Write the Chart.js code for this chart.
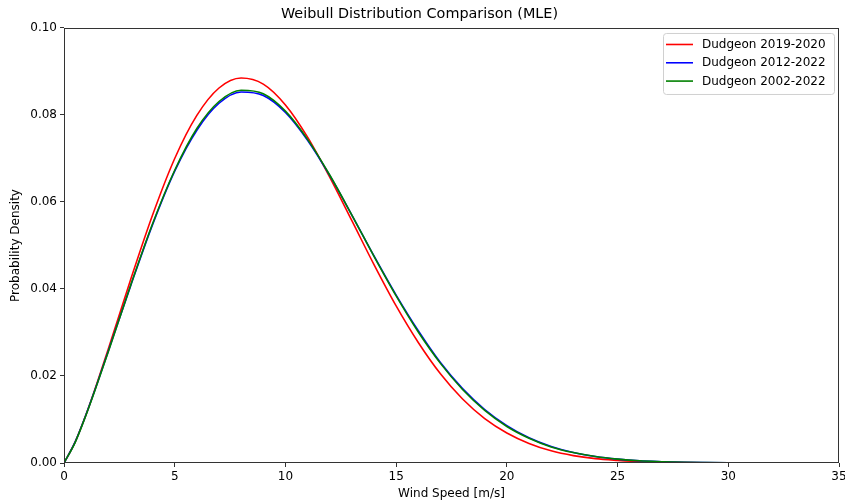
<!DOCTYPE html>
<html>
<head>
<meta charset="utf-8">
<script src="https://cdn.jsdelivr.net/npm/chart.js@4.4.1/dist/chart.umd.min.js"></script>
<style>
  html, body { margin: 0; padding: 0; background: #fff; }
  canvas { display: block; }
</style>
</head>
<body>
<canvas id="weibull" width="845" height="502"></canvas>
<script>
  const windSpeed = [0, 0.5, 1, 1.5, 2, 3, 4, 5, 6, 7, 8, 9, 10, 11, 12, 13, 14, 15, 16, 17,
    18, 19, 20, 21, 22, 23, 24, 25, 26, 27, 28, 29, 30, 31, 32, 33, 34, 35];

  const dudgeon1920 = [0, 0.0048, 0.0112, 0.0185, 0.0262, 0.0420, 0.0570, 0.0700, 0.0799, 0.0862, 0.0885, 0.0871,
    0.0823, 0.0749, 0.0657, 0.0557, 0.0456, 0.0361, 0.0277, 0.0205, 0.0147, 0.0102,
    0.0069, 0.0045, 0.0028, 0.0017, 0.0010, 0.0006, 0.0003, 0.0002, 0.0001, 0.00005,
    0.00002, 0.00001, 0, 0, 0, 0];

  const dudgeon1222 = [0, 0.0048, 0.0112, 0.0183, 0.0257, 0.0406, 0.0548, 0.0671, 0.0765, 0.0827, 0.0853, 0.0845,
    0.0806, 0.0742, 0.0661, 0.0570, 0.0476, 0.0386, 0.0304, 0.0231, 0.0171, 0.0123,
    0.0086, 0.0058, 0.0038, 0.0024, 0.0015, 0.0009, 0.0005, 0.0003, 0.00016, 0.00008,
    0.00004, 0.00002, 0.00001, 0, 0, 0];

  const dudgeon0222 = [0, 0.0047, 0.0111, 0.0182, 0.0256, 0.0407, 0.0550, 0.0673, 0.0769, 0.0831, 0.0857, 0.0849,
    0.0809, 0.0744, 0.0662, 0.0570, 0.0475, 0.0384, 0.0301, 0.0229, 0.0169, 0.0121,
    0.0084, 0.0057, 0.0037, 0.0024, 0.0015, 0.0009, 0.0005, 0.0003, 0.00015, 0.00008,
    0.00004, 0.00002, 0.00001, 0, 0, 0];

  const seriesLabels = ['Dudgeon 2019-2020', 'Dudgeon 2012-2022', 'Dudgeon 2002-2022'];
  const seriesColors = ['#ff0000', '#0000ff', '#008000'];
  const xTicks = [0, 5, 10, 15, 20, 25, 30, 35];
  const yTicks = [0, 0.02, 0.04, 0.06, 0.08, 0.10];

  const FONT = 'DejaVu Sans';

  function points(values) {
    return windSpeed.map((x, i) => ({ x, y: values[i] }));
  }

  // matplotlib-style box round the plot
  const frame = {
    id: 'frame',
    afterDatasetsDraw(chart) {
      const { ctx, chartArea: a } = chart;
      ctx.save();
      ctx.strokeStyle = '#333';
      ctx.lineWidth = 1;
      ctx.strokeRect(Math.round(a.left) + 0.5, Math.round(a.top) + 0.5,
        Math.round(a.right - a.left) - 1, Math.round(a.bottom - a.top) - 1);
      ctx.restore();
    },
  };

  // legend in the upper right corner, inside the axes
  const boxLegend = {
    id: 'boxLegend',
    afterDraw(chart) {
      const { ctx, chartArea: a } = chart;
      const w = 171, h = 61;
      const x = a.right - 5 - w, y = a.top + 5;
      ctx.save();
      ctx.beginPath();
      ctx.roundRect(x + 0.5, y + 0.5, w, h, 3);
      ctx.fillStyle = 'rgba(255,255,255,0.8)';
      ctx.fill();
      ctx.strokeStyle = '#d0d0d0';
      ctx.lineWidth = 1;
      ctx.stroke();
      ctx.font = `12px "${FONT}"`;
      ctx.textBaseline = 'middle';
      ctx.fillStyle = '#000';
      chart.data.datasets.forEach((ds, i) => {
        const ly = y + 11.5 + i * 18.3;
        ctx.beginPath();
        ctx.moveTo(x + 3, ly);
        ctx.lineTo(x + 30, ly);
        ctx.strokeStyle = ds.borderColor;
        ctx.lineWidth = 1.6;
        ctx.stroke();
        ctx.fillText(ds.label, x + 39, ly + 0.5);
      });
      ctx.restore();
    },
  };

  new Chart(document.getElementById('weibull'), {
    type: 'line',
    data: {
      datasets: [dudgeon1920, dudgeon1222, dudgeon0222].map((vals, i) => ({
        label: seriesLabels[i],
        data: points(vals),
        borderColor: seriesColors[i],
        backgroundColor: seriesColors[i],
        borderWidth: 1.6,
        pointRadius: 0,
        fill: false,
        cubicInterpolationMode: 'monotone',
        order: 2 - i,
      })),
    },
    options: {
      responsive: false,
      animation: false,
      layout: { padding: { left: 0, right: 6, top: 0, bottom: 0 } },
      plugins: {
        legend: { display: false },
        tooltip: { enabled: false },
        title: {
          display: true,
          text: 'Weibull Distribution Comparison (MLE)',
          color: '#000',
          font: { family: FONT, size: 14.4, weight: 'normal' },
          padding: { top: 5.4, bottom: 5.3 },
        },
      },
      scales: {
        x: {
          type: 'linear',
          min: 0,
          max: 35,
          afterFit(scale) {
            scale.height = 39;
            scale.paddingLeft = 0;
            scale.paddingRight = 0;
          },
          afterBuildTicks(scale) { scale.ticks = xTicks.map(v => ({ value: v })); },
          grid: { display: true, drawOnChartArea: false, drawTicks: true, tickLength: 4, color: '#333' },
          border: { display: false },
          ticks: {
            color: '#000',
            padding: 3,
            maxRotation: 0,
            font: { family: FONT, size: 12 },
            callback: v => String(v),
          },
          title: {
            display: true,
            text: 'Wind Speed [m/s]',
            color: '#000',
            font: { family: FONT, size: 12 },
            padding: { top: 2, bottom: 0.5 },
          },
        },
        y: {
          type: 'linear',
          min: 0,
          max: 0.1,
          afterFit(scale) { scale.width = 64; },
          afterBuildTicks(scale) { scale.ticks = yTicks.map(v => ({ value: v })); },
          grid: { display: true, drawOnChartArea: false, drawTicks: true, tickLength: 4, color: '#333' },
          border: { display: false },
          ticks: {
            color: '#000',
            padding: 3,
            font: { family: FONT, size: 12 },
            callback: v => Number(v).toFixed(2),
          },
          title: {
            display: true,
            text: 'Probability Density',
            color: '#000',
            font: { family: FONT, size: 12 },
            padding: { top: 9, bottom: 0 },
          },
        },
      },
    },
    plugins: [frame, boxLegend],
  });
</script>
</body>
</html>
